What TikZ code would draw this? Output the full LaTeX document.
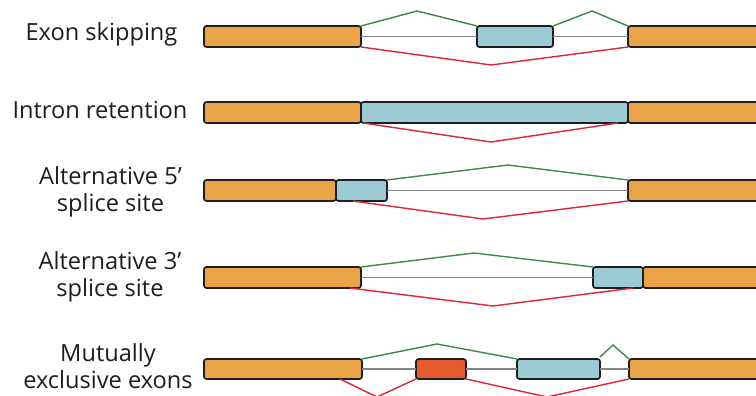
\documentclass[tikz,border=0pt]{standalone}
\usepackage{fontspec}
\setmainfont{Open Sans}
\definecolor{exorange}{HTML}{EAA448}
\definecolor{exblue}{HTML}{9DCBD5}
\definecolor{exred}{HTML}{E35B2E}
\definecolor{lngreen}{HTML}{3B8B45}
\definecolor{lnred}{HTML}{D9263A}
\definecolor{lngray}{HTML}{858585}
\definecolor{edge}{HTML}{1F1F1F}
\definecolor{txt}{HTML}{1E1E1E}
\begin{document}
\begin{tikzpicture}[x=1pt,y=-1pt,
  exon/.style={draw=edge,line width=1.7pt,rounded corners=2.5pt,inner sep=0pt,outer sep=0pt,minimum height=21pt},
  orng/.style={exon,fill=exorange},
  blu/.style={exon,fill=exblue},
  rdx/.style={exon,fill=exred},
  inc/.style={draw=lngreen,line width=1.4pt},
  skp/.style={draw=lnred,line width=1.4pt},
  intr/.style={draw=lngray,line width=1.7pt},
  lab/.style={text=txt,font=\fontsize{23.6}{26.5}\selectfont,align=center,anchor=base,inner sep=0pt}]
\useasboundingbox (0,0) rectangle (756,396);
\clip (0,0) rectangle (756,396);
\fill[white] (0,0) rectangle (756,396);

% labels (anchor = baseline of the last line)
\node[lab] (t1) at (101.5,41) {Exon skipping};
\node[lab] (t2) at (100,118) {Intron retention};
\node[lab] (t3) at (110.5,211) {Alternative 5’\\splice site};
\node[lab] (t4) at (110,296) {Alternative 3’\\splice site};
\node[lab] (t5) at (108,388) {Mutually\\exclusive exons};

% row 1: exon skipping
\node[orng,minimum width=157pt] (a1) at (282.5,36.5) {};
\node[blu,minimum width=76pt] (b1) at (515,36.5) {};
\node[orng,minimum width=142pt] (c1) at (699,36.5) {};
\coordinate (g1a) at (417,11);
\coordinate (g1b) at (592,11);
\coordinate (r1) at (491,65);
\draw[intr] (a1.east) -- (b1.west);
\draw[intr] (b1.east) -- (c1.west);
\draw[inc] (a1.north east) -- (g1a) -- (b1.north west);
\draw[inc] (b1.north east) -- (g1b) -- (c1.north west);
\draw[skp] (a1.south east) -- (r1) -- (c1.south west);

% row 2: intron retention
\node[orng,minimum width=157pt] (a2) at (282.5,112.5) {};
\node[blu,minimum width=267pt] (b2) at (494.5,112.5) {};
\node[orng,minimum width=142pt] (c2) at (699,112.5) {};
\coordinate (r2) at (491,142);
\draw[skp] ([xshift=2pt]b2.south west) -- (r2) -- ([xshift=-10pt]b2.south east);

% row 3: alternative 5' splice site
\node[orng,minimum width=132pt] (a3) at (270,190.5) {};
\node[blu,minimum width=51pt] (b3) at (361.5,190.5) {};
\node[orng,minimum width=142pt] (c3) at (699,190.5) {};
\coordinate (g3) at (508,165);
\coordinate (r3) at (483,219);
\draw[intr] (b3.east) -- (c3.west);
\draw[inc] (b3.north east) -- (g3) -- (c3.north west);
\draw[skp] ([xshift=17pt]b3.south west) -- (r3) -- (c3.south west);

% row 4: alternative 3' splice site
\node[orng,minimum width=157pt] (a4) at (282.5,277.5) {};
\node[blu,minimum width=50pt] (b4) at (618,277.5) {};
\node[orng,minimum width=127pt] (c4) at (706.5,277.5) {};
\coordinate (g4) at (474,253);
\coordinate (r4) at (493,306);
\draw[intr] (a4.east) -- (b4.west);
\draw[inc] (a4.north east) -- (g4) -- (b4.north west);
\draw[skp] ([xshift=-11pt]a4.south east) -- (r4) -- ([xshift=-10pt]c4.south west);

% row 5: mutually exclusive exons
\node[orng,minimum width=158pt,minimum height=20pt] (a5) at (283,369) {};
\node[rdx,minimum width=50pt,minimum height=20pt] (x5) at (441,369) {};
\node[blu,minimum width=83pt,minimum height=20pt] (b5) at (558.5,369) {};
\node[orng,minimum width=141pt,minimum height=20pt] (c5) at (699.5,369) {};
\coordinate (g5a) at (437,344);
\coordinate (g5b) at (613,345);
\coordinate (r5a) at (377,397);
\coordinate (r5b) at (547,397);
\draw[intr] (a5.east) -- (x5.west);
\draw[intr] (x5.east) -- (b5.west);
\draw[intr] (b5.east) -- (c5.west);
\draw[inc] (a5.north east) -- (g5a) -- (b5.north west);
\draw[inc] ([yshift=2pt]b5.north east) -- (g5b) -- (c5.north west);
\draw[skp] ([xshift=-22pt]a5.south east) -- (r5a) -- (x5.south west);
\draw[skp] (x5.south east) -- (r5b) -- (c5.south west);
\end{tikzpicture}
\end{document}
